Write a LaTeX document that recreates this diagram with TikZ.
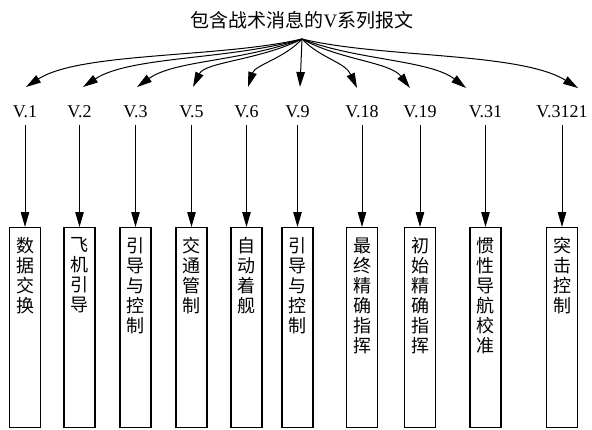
\documentclass[tikz,border=0pt]{standalone}
\usepackage{fontspec}
\setmainfont{Liberation Serif}
\newfontfamily\cjk{Noto Sans CJK SC}
\usetikzlibrary{arrows.meta}
\newcommand\vtxt[1]{\parbox[c][180pt][t]{24pt}{\centering\cjk\fontsize{18}{20}\selectfont #1}}
\begin{document}
\begin{tikzpicture}[x=1pt,y=-1pt,
  conn/.style={line width=1pt,-{Triangle[length=15pt,width=8.5pt]}},
  vbox/.style={draw,line width=1.2pt,minimum width=31pt,minimum height=200pt,inner sep=0pt,anchor=north},
  vlab/.style={inner sep=0pt,anchor=base,text height=12pt,text depth=0pt,font=\fontsize{18}{20}\selectfont}]
\useasboundingbox (0,0) rectangle (592,429);
\node[inner sep=0pt,font=\fontsize{19}{22}\selectfont] (title) at (302,20) {{\cjk 包含战术消息的}V{\cjk 系列报文}};
\coordinate (O) at (302,39);
% tips
\coordinate (t1) at (26,87);
\coordinate (t2) at (83,87);
\coordinate (t3) at (137,87);
\coordinate (t5) at (193,87);
\coordinate (t6) at (248,87);
\coordinate (t9) at (300,87);
\coordinate (t18) at (357,88);
\coordinate (t19) at (410,88);
\coordinate (t31) at (466,88);
\coordinate (t3121) at (578,88);
% labels
\node[vlab] (l1) at (25,117) {V.1};
\node[vlab] (l2) at (79.5,117) {V.2};
\node[vlab] (l3) at (135.5,117) {V.3};
\node[vlab] (l5) at (191.5,117) {V.5};
\node[vlab] (l6) at (246.5,117) {V.6};
\node[vlab] (l9) at (297.5,117) {V.9};
\node[vlab] (l18) at (362,117) {V.18};
\node[vlab] (l19) at (420,117) {V.19};
\node[vlab] (l31) at (485.5,117) {V.31};
\node[vlab] (l3121) at (562,117) {V.3121};
% boxes
\node[vbox] (b1) at (25,227) {\vtxt{数\\据\\交\\换}};
\node[vbox] (b2) at (79.5,227) {\vtxt{飞\\机\\引\\导}};
\node[vbox] (b3) at (135.5,227) {\vtxt{引\\导\\与\\控\\制}};
\node[vbox] (b5) at (191.5,227) {\vtxt{交\\通\\管\\制}};
\node[vbox] (b6) at (246.5,227) {\vtxt{自\\动\\着\\舰}};
\node[vbox] (b9) at (297.5,227) {\vtxt{引\\导\\与\\控\\制}};
\node[vbox] (b18) at (362,227) {\vtxt{最\\终\\精\\确\\指\\挥}};
\node[vbox] (b19) at (420,227) {\vtxt{初\\始\\精\\确\\指\\挥}};
\node[vbox] (b31) at (485.5,227) {\vtxt{惯\\性\\导\\航\\校\\准}};
\node[vbox] (b3121) at (562,227) {\vtxt{突\\击\\控\\制}};
% fan
\draw[conn] (O) .. controls (220,58) and (80,52) .. (t1);
\draw[conn] (O) .. controls (230,60) and (130,56) .. (t2);
\draw[conn] (O) .. controls (240,62) and (175,60) .. (t3);
\draw[conn] (O) .. controls (260,60) and (205,62) .. (t5);
\draw[conn] (O) .. controls (285,58) and (255,65) .. (t6);
\draw[conn] (O) -- (t9);
\draw[conn] (O) .. controls (320,58) and (345,62) .. (t18);
\draw[conn] (O) .. controls (340,60) and (390,62) .. (t19);
\draw[conn] (O) .. controls (355,60) and (430,60) .. (t31);
\draw[conn] (O) .. controls (380,58) and (520,52) .. (t3121);
% verticals
\foreach \k in {1,2,3,5,6,9,18,19,31,3121}
  \draw[conn,shorten <=8pt] (l\k.south) -- (b\k.north);
\end{tikzpicture}
\end{document}
